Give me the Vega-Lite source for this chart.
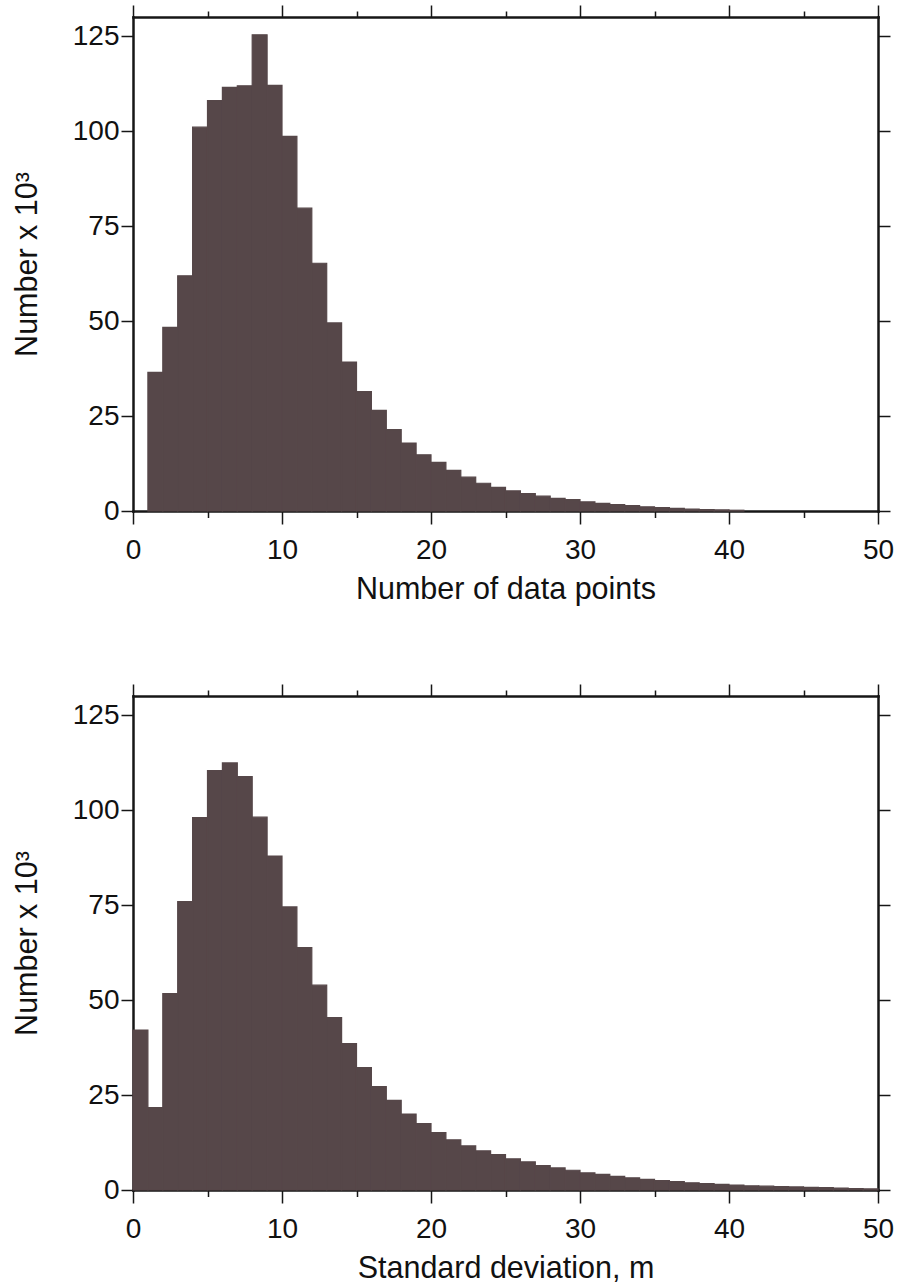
{
  "$schema": "https://vega.github.io/schema/vega-lite/v6.json",
  "background": "#ffffff",
  "padding": {"left": 12, "top": 4, "right": 5, "bottom": 5},
  "spacing": 78,
  "config": {
    "view": {"stroke": null},
    "font": "Liberation Sans",
    "axis": {
      "grid": false,
      "domainColor": "#161616",
      "domainWidth": 2.5,
      "domainCap": "square",
      "tickColor": "#161616",
      "tickWidth": 1.5,
      "labelFont": "Liberation Sans",
      "labelFontSize": 28,
      "labelColor": "#111111",
      "titleFont": "Liberation Sans",
      "titleFontSize": 30.5,
      "titleFontWeight": "normal",
      "titleColor": "#111111",
      "labelOverlap": false,
      "labelBound": false,
      "labelFlush": false
    }
  },
  "datasets": {
    "hist": [
      {"panel": "npts", "bin_start": 1, "bin_end": 2, "count": 36.5},
      {"panel": "npts", "bin_start": 2, "bin_end": 3, "count": 48.3},
      {"panel": "npts", "bin_start": 3, "bin_end": 4, "count": 61.9},
      {"panel": "npts", "bin_start": 4, "bin_end": 5, "count": 101.0},
      {"panel": "npts", "bin_start": 5, "bin_end": 6, "count": 108.0},
      {"panel": "npts", "bin_start": 6, "bin_end": 7, "count": 111.5},
      {"panel": "npts", "bin_start": 7, "bin_end": 8, "count": 111.9},
      {"panel": "npts", "bin_start": 8, "bin_end": 9, "count": 125.3},
      {"panel": "npts", "bin_start": 9, "bin_end": 10, "count": 112.0},
      {"panel": "npts", "bin_start": 10, "bin_end": 11, "count": 98.6},
      {"panel": "npts", "bin_start": 11, "bin_end": 12, "count": 79.7},
      {"panel": "npts", "bin_start": 12, "bin_end": 13, "count": 65.2},
      {"panel": "npts", "bin_start": 13, "bin_end": 14, "count": 49.5},
      {"panel": "npts", "bin_start": 14, "bin_end": 15, "count": 39.2},
      {"panel": "npts", "bin_start": 15, "bin_end": 16, "count": 31.4},
      {"panel": "npts", "bin_start": 16, "bin_end": 17, "count": 26.5},
      {"panel": "npts", "bin_start": 17, "bin_end": 18, "count": 21.4},
      {"panel": "npts", "bin_start": 18, "bin_end": 19, "count": 17.9},
      {"panel": "npts", "bin_start": 19, "bin_end": 20, "count": 14.8},
      {"panel": "npts", "bin_start": 20, "bin_end": 21, "count": 12.8},
      {"panel": "npts", "bin_start": 21, "bin_end": 22, "count": 10.7},
      {"panel": "npts", "bin_start": 22, "bin_end": 23, "count": 8.9},
      {"panel": "npts", "bin_start": 23, "bin_end": 24, "count": 7.3},
      {"panel": "npts", "bin_start": 24, "bin_end": 25, "count": 6.2},
      {"panel": "npts", "bin_start": 25, "bin_end": 26, "count": 5.3},
      {"panel": "npts", "bin_start": 26, "bin_end": 27, "count": 4.6},
      {"panel": "npts", "bin_start": 27, "bin_end": 28, "count": 3.9},
      {"panel": "npts", "bin_start": 28, "bin_end": 29, "count": 3.3},
      {"panel": "npts", "bin_start": 29, "bin_end": 30, "count": 3.0},
      {"panel": "npts", "bin_start": 30, "bin_end": 31, "count": 2.4},
      {"panel": "npts", "bin_start": 31, "bin_end": 32, "count": 2.0},
      {"panel": "npts", "bin_start": 32, "bin_end": 33, "count": 1.7},
      {"panel": "npts", "bin_start": 33, "bin_end": 34, "count": 1.4},
      {"panel": "npts", "bin_start": 34, "bin_end": 35, "count": 1.1},
      {"panel": "npts", "bin_start": 35, "bin_end": 36, "count": 0.9},
      {"panel": "npts", "bin_start": 36, "bin_end": 37, "count": 0.7},
      {"panel": "npts", "bin_start": 37, "bin_end": 38, "count": 0.5},
      {"panel": "npts", "bin_start": 38, "bin_end": 39, "count": 0.4},
      {"panel": "npts", "bin_start": 39, "bin_end": 40, "count": 0.3},
      {"panel": "npts", "bin_start": 40, "bin_end": 41, "count": 0.2},
      {"panel": "stdev", "bin_start": 0, "bin_end": 1, "count": 42.1},
      {"panel": "stdev", "bin_start": 1, "bin_end": 2, "count": 21.7},
      {"panel": "stdev", "bin_start": 2, "bin_end": 3, "count": 51.7},
      {"panel": "stdev", "bin_start": 3, "bin_end": 4, "count": 75.9},
      {"panel": "stdev", "bin_start": 4, "bin_end": 5, "count": 98.0},
      {"panel": "stdev", "bin_start": 5, "bin_end": 6, "count": 110.4},
      {"panel": "stdev", "bin_start": 6, "bin_end": 7, "count": 112.4},
      {"panel": "stdev", "bin_start": 7, "bin_end": 8, "count": 108.8},
      {"panel": "stdev", "bin_start": 8, "bin_end": 9, "count": 98.1},
      {"panel": "stdev", "bin_start": 9, "bin_end": 10, "count": 87.9},
      {"panel": "stdev", "bin_start": 10, "bin_end": 11, "count": 74.5},
      {"panel": "stdev", "bin_start": 11, "bin_end": 12, "count": 63.8},
      {"panel": "stdev", "bin_start": 12, "bin_end": 13, "count": 53.9},
      {"panel": "stdev", "bin_start": 13, "bin_end": 14, "count": 45.4},
      {"panel": "stdev", "bin_start": 14, "bin_end": 15, "count": 38.5},
      {"panel": "stdev", "bin_start": 15, "bin_end": 16, "count": 32.2},
      {"panel": "stdev", "bin_start": 16, "bin_end": 17, "count": 27.2},
      {"panel": "stdev", "bin_start": 17, "bin_end": 18, "count": 23.6},
      {"panel": "stdev", "bin_start": 18, "bin_end": 19, "count": 20.0},
      {"panel": "stdev", "bin_start": 19, "bin_end": 20, "count": 17.5},
      {"panel": "stdev", "bin_start": 20, "bin_end": 21, "count": 15.1},
      {"panel": "stdev", "bin_start": 21, "bin_end": 22, "count": 13.2},
      {"panel": "stdev", "bin_start": 22, "bin_end": 23, "count": 11.6},
      {"panel": "stdev", "bin_start": 23, "bin_end": 24, "count": 10.3},
      {"panel": "stdev", "bin_start": 24, "bin_end": 25, "count": 9.3},
      {"panel": "stdev", "bin_start": 25, "bin_end": 26, "count": 8.2},
      {"panel": "stdev", "bin_start": 26, "bin_end": 27, "count": 7.4},
      {"panel": "stdev", "bin_start": 27, "bin_end": 28, "count": 6.4},
      {"panel": "stdev", "bin_start": 28, "bin_end": 29, "count": 5.8},
      {"panel": "stdev", "bin_start": 29, "bin_end": 30, "count": 5.2},
      {"panel": "stdev", "bin_start": 30, "bin_end": 31, "count": 4.5},
      {"panel": "stdev", "bin_start": 31, "bin_end": 32, "count": 4.1},
      {"panel": "stdev", "bin_start": 32, "bin_end": 33, "count": 3.6},
      {"panel": "stdev", "bin_start": 33, "bin_end": 34, "count": 3.2},
      {"panel": "stdev", "bin_start": 34, "bin_end": 35, "count": 2.8},
      {"panel": "stdev", "bin_start": 35, "bin_end": 36, "count": 2.5},
      {"panel": "stdev", "bin_start": 36, "bin_end": 37, "count": 2.2},
      {"panel": "stdev", "bin_start": 37, "bin_end": 38, "count": 1.9},
      {"panel": "stdev", "bin_start": 38, "bin_end": 39, "count": 1.7},
      {"panel": "stdev", "bin_start": 39, "bin_end": 40, "count": 1.5},
      {"panel": "stdev", "bin_start": 40, "bin_end": 41, "count": 1.3},
      {"panel": "stdev", "bin_start": 41, "bin_end": 42, "count": 1.1},
      {"panel": "stdev", "bin_start": 42, "bin_end": 43, "count": 1.0},
      {"panel": "stdev", "bin_start": 43, "bin_end": 44, "count": 0.9},
      {"panel": "stdev", "bin_start": 44, "bin_end": 45, "count": 0.8},
      {"panel": "stdev", "bin_start": 45, "bin_end": 46, "count": 0.7},
      {"panel": "stdev", "bin_start": 46, "bin_end": 47, "count": 0.6},
      {"panel": "stdev", "bin_start": 47, "bin_end": 48, "count": 0.5},
      {"panel": "stdev", "bin_start": 48, "bin_end": 49, "count": 0.4},
      {"panel": "stdev", "bin_start": 49, "bin_end": 50, "count": 0.3}
    ]
  },
  "data": {"name": "hist"},
  "vconcat": [
    {
      "width": 745,
      "height": 494,
      "transform": [{"filter": "datum.panel === 'npts'"}],
      "layer": [
        {
          "mark": {"type": "bar", "color": "#564749", "stroke": "#564749", "strokeWidth": 1.2, "strokeOpacity": 1},
          "encoding": {
            "x": {
              "field": "bin_start", "type": "quantitative",
              "scale": {"domain": [0, 50], "nice": false, "zero": false},
              "title": "Number of data points",
              "axis": {
                "orient": "bottom",
                "values": [0, 5, 10, 15, 20, 25, 30, 35, 40, 45, 50],
                "labelExpr": "datum.value % 10 === 0 ? datum.label : ''",
                "tickSize": {"condition": {"test": "datum.value % 10 === 0", "value": 13}, "value": 6.5},
                "labelPadding": 12,
                "titlePadding": 10
              }
            },
            "x2": {"field": "bin_end"},
            "y": {
              "field": "count", "type": "quantitative",
              "scale": {"domain": [0, 130], "nice": false},
              "title": "Number x 10³",
              "axis": {
                "orient": "left",
                "values": [0, 25, 50, 75, 100, 125],
                "tickSize": 12,
                "labelPadding": 2,
                "titlePadding": 30
              }
            },
            "y2": {"datum": 0}
          }
        },
        {
          "mark": {"type": "bar", "opacity": 0},
          "encoding": {
            "x": {
              "field": "bin_start", "type": "quantitative",
              "scale": {"domain": [0, 50], "nice": false, "zero": false},
              "axis": {
                "orient": "top", "title": null, "labels": false,
                "values": [0, 5, 10, 15, 20, 25, 30, 35, 40, 45, 50],
                "tickSize": {"condition": {"test": "datum.value % 10 === 0", "value": 12}, "value": 6}
              }
            },
            "x2": {"field": "bin_end"},
            "y": {
              "field": "count", "type": "quantitative",
              "scale": {"domain": [0, 130], "nice": false},
              "axis": {
                "orient": "right", "title": null, "labels": false,
                "values": [0, 25, 50, 75, 100, 125],
                "tickSize": 12
              }
            },
            "y2": {"datum": 0}
          }
        }
      ],
      "resolve": {"axis": {"x": "independent", "y": "independent"}}
    },
    {
      "width": 745,
      "height": 494,
      "transform": [{"filter": "datum.panel === 'stdev'"}],
      "layer": [
        {
          "mark": {"type": "bar", "color": "#564749", "stroke": "#564749", "strokeWidth": 1.2, "strokeOpacity": 1},
          "encoding": {
            "x": {
              "field": "bin_start", "type": "quantitative",
              "scale": {"domain": [0, 50], "nice": false, "zero": false},
              "title": "Standard deviation, m",
              "axis": {
                "orient": "bottom",
                "values": [0, 5, 10, 15, 20, 25, 30, 35, 40, 45, 50],
                "labelExpr": "datum.value % 10 === 0 ? datum.label : ''",
                "tickSize": {"condition": {"test": "datum.value % 10 === 0", "value": 13}, "value": 6.5},
                "labelPadding": 12,
                "titlePadding": 10
              }
            },
            "x2": {"field": "bin_end"},
            "y": {
              "field": "count", "type": "quantitative",
              "scale": {"domain": [0, 130], "nice": false},
              "title": "Number x 10³",
              "axis": {
                "orient": "left",
                "values": [0, 25, 50, 75, 100, 125],
                "tickSize": 12,
                "labelPadding": 2,
                "titlePadding": 30
              }
            },
            "y2": {"datum": 0}
          }
        },
        {
          "mark": {"type": "bar", "opacity": 0},
          "encoding": {
            "x": {
              "field": "bin_start", "type": "quantitative",
              "scale": {"domain": [0, 50], "nice": false, "zero": false},
              "axis": {
                "orient": "top", "title": null, "labels": false,
                "values": [0, 5, 10, 15, 20, 25, 30, 35, 40, 45, 50],
                "tickSize": {"condition": {"test": "datum.value % 10 === 0", "value": 12}, "value": 6}
              }
            },
            "x2": {"field": "bin_end"},
            "y": {
              "field": "count", "type": "quantitative",
              "scale": {"domain": [0, 130], "nice": false},
              "axis": {
                "orient": "right", "title": null, "labels": false,
                "values": [0, 25, 50, 75, 100, 125],
                "tickSize": 12
              }
            },
            "y2": {"datum": 0}
          }
        }
      ],
      "resolve": {"axis": {"x": "independent", "y": "independent"}}
    }
  ]
}
